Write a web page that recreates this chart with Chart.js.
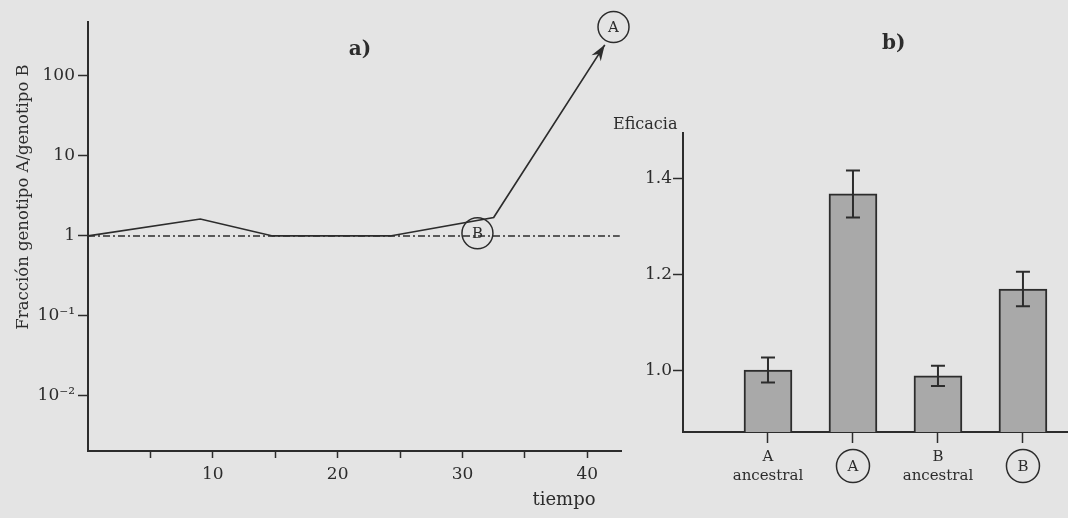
<!DOCTYPE html>
<html>
<head>
<meta charset="utf-8">
<script src="https://cdn.jsdelivr.net/npm/chart.js@4"></script>
<style>
  body { margin: 0; background: #e4e4e4; width: 1068px; height: 518px; overflow: hidden; position: relative; }
  canvas { position: absolute; top: 0; }
  #chartA { left: 0; }
  #chartB { left: 600px; }
</style>
</head>
<body>
<canvas id="chartA" width="640" height="518"></canvas>
<canvas id="chartB" width="468" height="518"></canvas>
<script>
const INK = '#2c2c2c';
const SERIF = "'DejaVu Serif', 'Liberation Serif', serif";

// a) fraccion genotipo A / genotipo B a lo largo del tiempo
const tiempo = [0, 9, 14.8, 24.2, 32.5, 41.4];
const fraccion = [1, 1.63, 1.0, 1.0, 1.7, 245];
const refTiempo = [0, 42.6];
const refFraccion = [1, 1];
const xTicksA = [5, 10, 15, 20, 25, 30, 35, 40];
const yTicksA = [0.01, 0.1, 1, 10, 100];
const yLabelsA = ['10⁻²', '10⁻¹', '1', '10', '100'];
const marcas = ['A', 'B'];
const marcasX = [42.1, 31.2];
const marcasY = [410, 1.08];

// b) eficacia
const categorias = [['A', 'ancestral'], 'A', ['B', 'ancestral'], 'B'];
const rodeado = [false, true, false, true];
const eficacia = [1.0, 1.367, 0.988, 1.169];
const errorEf = [0.026, 0.049, 0.021, 0.036];
const yTicksB = [1.0, 1.2, 1.4];

function circled(ctx, x, y, r) {
    ctx.beginPath();
    ctx.arc(x, y, r, 0, Math.PI * 2);
    ctx.stroke();
}

const plotA = {
    id: 'plotA',
    afterDatasetsDraw(chart) {
        const ctx = chart.ctx;
        const pts = chart.getDatasetMeta(0).data;
        const p = pts[pts.length - 1], q = pts[pts.length - 2];
        const ang = Math.atan2(p.y - q.y, p.x - q.x);
        ctx.save();
        ctx.translate(p.x, p.y);
        ctx.rotate(ang);
        ctx.fillStyle = INK;
        ctx.beginPath();
        ctx.moveTo(0, 0);
        ctx.lineTo(-16, -5.5);
        ctx.lineTo(-11, 0);
        ctx.lineTo(-16, 5.5);
        ctx.closePath();
        ctx.fill();
        ctx.restore();
    },
    afterDraw(chart) {
        const ctx = chart.ctx;
        const { x, y } = chart.scales;
        ctx.save();
        ctx.strokeStyle = INK;
        ctx.fillStyle = INK;
        ctx.lineWidth = 1.5;
        ctx.textAlign = 'center';
        ctx.textBaseline = 'middle';
        ctx.font = '15px ' + SERIF;
        marcas.forEach((m, i) => {
            const px = x.getPixelForValue(marcasX[i]);
            const py = y.getPixelForValue(marcasY[i]);
            circled(ctx, px, py, 15.5);
            ctx.fillText(m, px, py + 1);
        });
        ctx.font = 'bold 20px ' + SERIF;
        ctx.fillText('a)', 360, 50);
        ctx.font = '18px ' + SERIF;
        ctx.fillText('tiempo', 564, 500);
        ctx.translate(24, 197);
        ctx.rotate(-Math.PI / 2);
        ctx.font = '16.5px ' + SERIF;
        ctx.fillText('Fracción genotipo A/genotipo B', 0, 0);
        ctx.restore();
    }
};

new Chart(document.getElementById('chartA'), {
    type: 'line',
    data: {
        datasets: [{
            data: tiempo.map((t, i) => ({ x: t, y: fraccion[i] })),
            borderColor: INK,
            borderWidth: 1.7,
            pointRadius: 0,
            tension: 0
        }, {
            data: refTiempo.map((t, i) => ({ x: t, y: refFraccion[i] })),
            borderColor: INK,
            borderWidth: 1.5,
            borderDash: [7, 3, 2, 3],
            pointRadius: 0
        }]
    },
    options: {
        responsive: false,
        animation: false,
        layout: { padding: { top: 22, right: 19, left: 0, bottom: 0 } },
        plugins: { legend: { display: false }, tooltip: { enabled: false } },
        scales: {
            x: {
                type: 'linear',
                min: 0,
                max: 42.7,
                afterFit: s => { s.height = 67; },
                afterBuildTicks: s => { s.ticks = xTicksA.map(v => ({ value: v })); },
                border: { display: true, color: INK, width: 2 },
                grid: { display: true, drawOnChartArea: false, tickLength: 7, tickColor: INK, tickWidth: 1.5 },
                ticks: {
                    color: INK,
                    font: { family: SERIF, size: 17 },
                    padding: 6,
                    maxRotation: 0,
                    autoSkip: false,
                    callback: v => (v % 10 === 0 ? v : '')
                }
            },
            y: {
                type: 'logarithmic',
                min: 0.00205,
                max: 473,
                afterFit: s => { s.width = 88; },
                afterBuildTicks: s => { s.ticks = yTicksA.map(v => ({ value: v })); },
                border: { display: true, color: INK, width: 2 },
                grid: { display: true, drawOnChartArea: false, tickLength: 10, tickColor: INK, tickWidth: 1.5 },
                ticks: {
                    color: INK,
                    font: { family: SERIF, size: 17 },
                    padding: 3,
                    autoSkip: false,
                    callback: (v, i) => yLabelsA[i]
                }
            }
        }
    },
    plugins: [plotA]
});

const plotB = {
    id: 'plotB',
    afterDatasetsDraw(chart) {
        const ctx = chart.ctx;
        const { x, y } = chart.scales;
        ctx.save();
        ctx.strokeStyle = INK;
        ctx.lineWidth = 2;
        eficacia.forEach((v, i) => {
            const px = x.getPixelForValue(i + 1);
            const hi = y.getPixelForValue(v + errorEf[i]);
            const lo = y.getPixelForValue(v - errorEf[i]);
            ctx.beginPath();
            ctx.moveTo(px, hi); ctx.lineTo(px, lo);
            ctx.moveTo(px - 7, hi); ctx.lineTo(px + 7, hi);
            ctx.moveTo(px - 7, lo); ctx.lineTo(px + 7, lo);
            ctx.stroke();
        });
        ctx.restore();
    },
    afterDraw(chart) {
        const ctx = chart.ctx;
        const { x } = chart.scales;
        ctx.save();
        ctx.strokeStyle = INK;
        ctx.fillStyle = INK;
        ctx.lineWidth = 1.5;
        rodeado.forEach((r, i) => {
            if (r) circled(ctx, x.getPixelForValue(i + 1), chart.chartArea.bottom + 34, 16.5);
        });
        ctx.textAlign = 'left';
        ctx.textBaseline = 'middle';
        ctx.font = '16px ' + SERIF;
        ctx.fillText('Eficacia', 13, 125);
        ctx.font = 'bold 20px ' + SERIF;
        ctx.fillText('b)', 282, 44);
        ctx.restore();
    }
};

new Chart(document.getElementById('chartB'), {
    type: 'bar',
    data: {
        datasets: [{
            data: eficacia.map((v, i) => ({ x: i + 1, y: v })),
            backgroundColor: '#a9a9a9',
            borderColor: INK,
            borderWidth: 2,
            borderSkipped: 'bottom',
            barThickness: 48
        }]
    },
    options: {
        responsive: false,
        animation: false,
        layout: { padding: { top: 133, right: 0, left: 0, bottom: 0 } },
        plugins: { legend: { display: false }, tooltip: { enabled: false } },
        scales: {
            x: {
                type: 'linear',
                min: 0,
                max: 4.53,
                offset: false,
                afterFit: s => { s.height = 86; },
                afterBuildTicks: s => { s.ticks = categorias.map((c, i) => ({ value: i + 1 })); },
                border: { display: true, color: INK, width: 2 },
                grid: { display: true, offset: false, drawOnChartArea: false, tickLength: 11, tickColor: INK, tickWidth: 1.5 },
                ticks: {
                    color: INK,
                    font: { family: SERIF, size: 15, lineHeight: 1.3 },
                    padding: 14,
                    crossAlign: 'center',
                    maxRotation: 0,
                    autoSkip: false,
                    callback: v => categorias[v - 1]
                }
            },
            y: {
                min: 0.871,
                max: 1.494,
                afterFit: s => { s.width = 83; },
                afterBuildTicks: s => { s.ticks = yTicksB.map(v => ({ value: v })); },
                border: { display: true, color: INK, width: 2 },
                grid: { display: true, drawOnChartArea: false, tickLength: 10, tickColor: INK, tickWidth: 1.5 },
                ticks: {
                    color: INK,
                    font: { family: SERIF, size: 17 },
                    padding: 1,
                    autoSkip: false,
                    callback: v => v.toFixed(1)
                }
            }
        }
    },
    plugins: [plotB]
});
</script>
</body>
</html>
